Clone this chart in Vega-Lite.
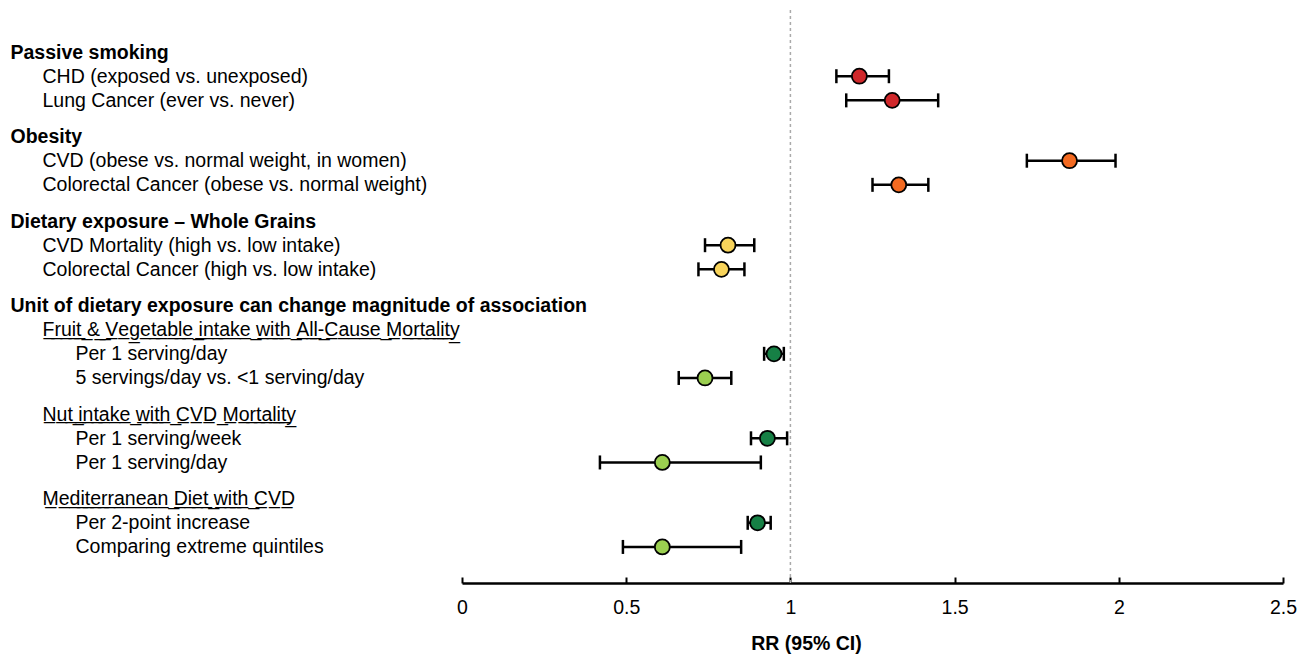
{
  "$schema": "https://vega.github.io/schema/vega-lite/v6.json",
  "width": 821,
  "height": 573,
  "autosize": {"type": "none"},
  "padding": {"left": 462, "top": 10, "right": 26, "bottom": 73},
  "background": "white",
  "config": {"view": {"stroke": null}, "font": "Liberation Sans"},
  "data": {
    "values": [
      {"key": "00|x|"},
      {"key": "01|x|"},
      {"key": "02|x|"},
      {"key": "03|h|Passive smoking"},
      {"key": "04|x|"},
      {"key": "05|i|CHD (exposed vs. unexposed)", "rr": 1.21, "lo": 1.14, "hi": 1.30, "grp": "a"},
      {"key": "06|x|"},
      {"key": "07|i|Lung Cancer (ever vs. never)", "rr": 1.31, "lo": 1.17, "hi": 1.45, "grp": "a"},
      {"key": "08|x|"},
      {"key": "09|x|"},
      {"key": "10|h|Obesity"},
      {"key": "11|x|"},
      {"key": "12|i|CVD (obese vs. normal weight, in women)", "rr": 1.85, "lo": 1.72, "hi": 1.99, "grp": "b"},
      {"key": "13|x|"},
      {"key": "14|i|Colorectal Cancer (obese vs. normal weight)", "rr": 1.33, "lo": 1.25, "hi": 1.42, "grp": "b"},
      {"key": "15|x|"},
      {"key": "16|x|"},
      {"key": "17|h|Dietary exposure – Whole Grains"},
      {"key": "18|x|"},
      {"key": "19|i|CVD Mortality (high vs. low intake)", "rr": 0.81, "lo": 0.74, "hi": 0.89, "grp": "c"},
      {"key": "20|x|"},
      {"key": "21|i|Colorectal Cancer (high vs. low intake)", "rr": 0.79, "lo": 0.72, "hi": 0.86, "grp": "c"},
      {"key": "22|x|"},
      {"key": "23|x|"},
      {"key": "24|h|Unit of dietary exposure can change magnitude of association"},
      {"key": "25|x|"},
      {"key": "26|u|Fruit & Vegetable intake with All-Cause Mortality"},
      {"key": "27|x|"},
      {"key": "28|s|Per 1 serving/day", "rr": 0.95, "lo": 0.92, "hi": 0.98, "grp": "d"},
      {"key": "29|x|"},
      {"key": "30|s|5 servings/day vs. <1 serving/day", "rr": 0.74, "lo": 0.66, "hi": 0.82, "grp": "e"},
      {"key": "31|x|"},
      {"key": "32|x|"},
      {"key": "33|u|Nut intake with CVD Mortality"},
      {"key": "34|x|"},
      {"key": "35|s|Per 1 serving/week", "rr": 0.93, "lo": 0.88, "hi": 0.99, "grp": "d"},
      {"key": "36|x|"},
      {"key": "37|s|Per 1 serving/day", "rr": 0.61, "lo": 0.42, "hi": 0.91, "grp": "e"},
      {"key": "38|x|"},
      {"key": "39|x|"},
      {"key": "40|u|Mediterranean Diet with CVD"},
      {"key": "41|x|"},
      {"key": "42|s|Per 2-point increase", "rr": 0.90, "lo": 0.87, "hi": 0.94, "grp": "d"},
      {"key": "43|x|"},
      {"key": "44|s|Comparing extreme quintiles", "rr": 0.61, "lo": 0.49, "hi": 0.85, "grp": "e"},
      {"key": "45|x|"},
      {"key": "46|x|"}
    ]
  },
  "layer": [
    {
      "data": {"values": [{}]},
      "mark": {"type": "rule", "color": "#AAAAAA", "strokeDash": [3, 3], "strokeWidth": 1.5},
      "encoding": {
        "x": {"datum": 1, "type": "quantitative", "scale": {"domain": [0, 2.5], "nice": false, "zero": false}}
      }
    },
    {
      "encoding": {
        "y": {
          "field": "key",
          "type": "ordinal",
          "sort": "ascending",
          "scale": {"type": "point", "padding": 0.737, "align": 0.33},
          "axis": {
            "title": null,
            "orient": "left",
            "domain": false,
            "ticks": false,
            "tickSize": 0,
            "grid": false,
            "labelAlign": "left",
            "labelBaseline": "middle",
            "labelFont": "Liberation Sans, Noto Sans",
            "labelFontSize": 19.5,
            "labelColor": "black",
            "labelLimit": 0,
            "labelOverlap": false,
            "labelPadding": {
              "condition": [
                {"test": "split(datum.value,'|')[1] == 'h'", "value": 452},
                {"test": "split(datum.value,'|')[1] == 's'", "value": 387}
              ],
              "value": 420
            },
            "labelFontWeight": {
              "condition": {"test": "split(datum.value,'|')[1] == 'h'", "value": "bold"},
              "value": "normal"
            },
            "labelExpr": "split(datum.value,'|')[1] == 'u' ? replace(split(datum.value,'|')[2], regexp('(.)','g'), '$1\u0332') : split(datum.value,'|')[2]"
          }
        }
      },
      "layer": [
        {"mark": {"type": "point", "opacity": 0}},
        {
          "mark": {"type": "rule", "color": "black", "strokeWidth": 2.5},
          "encoding": {
            "x": {
              "field": "lo",
              "type": "quantitative",
              "scale": {"domain": [0, 2.5], "nice": false, "zero": false},
              "axis": {
                "title": "RR (95% CI)",
                "values": [0, 0.5, 1, 1.5, 2, 2.5],
                "format": "~g",
                "grid": false,
                "labelFlush": false,
                "domainColor": "black",
                "domainWidth": 2.5,
                "tickColor": "black",
                "tickWidth": 2,
                "tickSize": -6,
                "labelPadding": 21,
                "labelFont": "Liberation Sans",
                "labelFontSize": 19.5,
                "labelColor": "black",
                "titleFont": "Liberation Sans",
                "titleFontSize": 19.5,
                "titleFontWeight": "bold",
                "titleColor": "black",
                "titleX": 344,
                "titleAlign": "center",
                "titlePadding": 18
              }
            },
            "x2": {"field": "hi"}
          }
        },
        {
          "mark": {"type": "tick", "color": "black", "opacity": 1, "size": 14, "thickness": 2.5},
          "encoding": {"x": {"field": "lo", "type": "quantitative"}}
        },
        {
          "mark": {"type": "tick", "color": "black", "opacity": 1, "size": 14, "thickness": 2.5},
          "encoding": {"x": {"field": "hi", "type": "quantitative"}}
        },
        {
          "mark": {"type": "point", "filled": true, "size": 225, "stroke": "black", "strokeWidth": 1.8, "opacity": 1},
          "encoding": {
            "x": {"field": "rr", "type": "quantitative"},
            "fill": {
              "field": "grp",
              "type": "nominal",
              "scale": {"domain": ["a", "b", "c", "d", "e"], "range": ["#D0282B", "#F36A21", "#F8D45B", "#168045", "#9BCF50"]},
              "legend": null
            }
          }
        }
      ]
    }
  ]
}
